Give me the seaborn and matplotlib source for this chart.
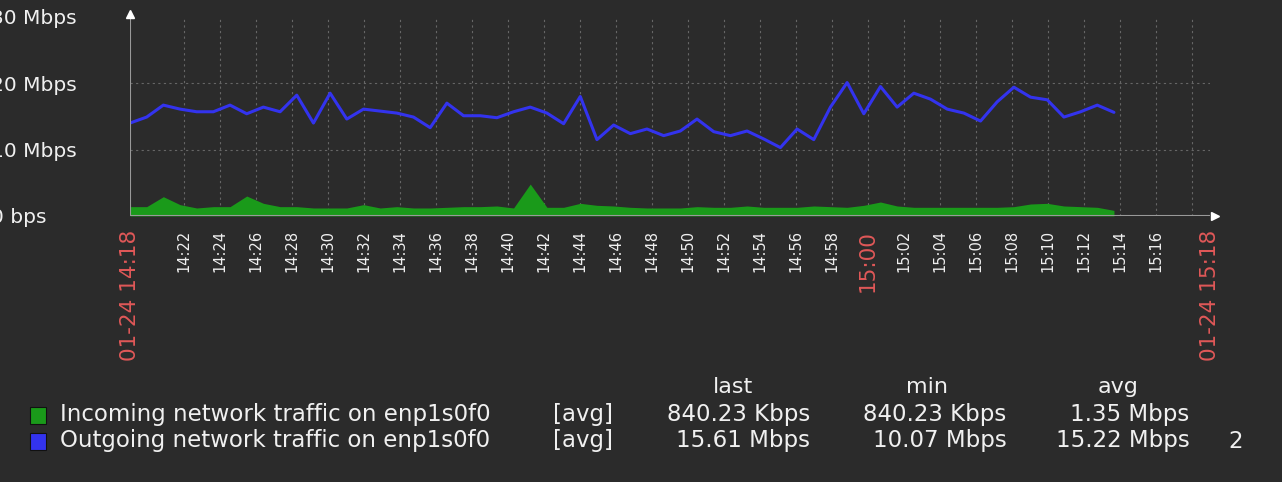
import numpy as np
import pandas as pd
import matplotlib
matplotlib.use('Agg')
import matplotlib.pyplot as plt
import seaborn as sns

# samples ~55s apart, 14:18:00 .. 15:12:40
times = pd.date_range("2024-01-24 14:18:00", "2024-01-24 15:12:40", periods=60)

outgoing = [14.0, 14.9, 16.7, 16.1, 15.7, 15.7, 16.7, 15.4, 16.4, 15.7,
            18.2, 14.0, 18.5, 14.6, 16.1, 15.8, 15.5, 14.9, 13.3, 17.0,
            15.1, 15.1, 14.8, 15.7, 16.4, 15.5, 13.9, 18.0, 11.5, 13.7,
            12.4, 13.1, 12.1, 12.8, 14.6, 12.7, 12.1, 12.8, 11.6, 10.3,
            13.1, 11.5, 16.4, 20.1, 15.4, 19.5, 16.4, 18.5, 17.6, 16.1,
            15.5, 14.3, 17.2, 19.4, 17.9, 17.5, 14.9, 15.7, 16.7, 15.61]

incoming = [1.4, 1.4, 2.9, 1.7, 1.2, 1.4, 1.4, 3.0, 1.9, 1.4,
            1.4, 1.2, 1.2, 1.2, 1.7, 1.2, 1.4, 1.2, 1.2, 1.3,
            1.4, 1.4, 1.5, 1.2, 4.8, 1.3, 1.3, 1.9, 1.6, 1.5,
            1.3, 1.2, 1.2, 1.2, 1.4, 1.3, 1.3, 1.5, 1.3, 1.3,
            1.3, 1.5, 1.4, 1.3, 1.6, 2.1, 1.5, 1.3, 1.3, 1.3,
            1.3, 1.3, 1.3, 1.4, 1.8, 1.9, 1.5, 1.4, 1.3, 0.84]

y_ticks = [0, 10, 20, 30]
y_labels = ["0 bps", "10 Mbps", "20 Mbps", "30 Mbps"]

legend_rows = [
    ("Incoming network traffic on enp1s0f0", "[avg]", "840.23 Kbps", "840.23 Kbps", "1.35 Mbps"),
    ("Outgoing network traffic on enp1s0f0", "[avg]", "15.61 Mbps", "10.07 Mbps", "15.22 Mbps"),
]

BG = "#2b2b2b"
GREEN = "#1a9a1a"
BLUE = "#3333ee"
RED = "#e05858"
TXT = "#f0f0f0"

start = pd.Timestamp("2024-01-24 14:18:00")
minutes = (times - start).total_seconds() / 60.0
df = pd.DataFrame({"t": minutes, "out": outgoing, "in": incoming})

sns.set_style("dark")
plt.rcParams['font.family'] = ['DejaVu Sans']
fig = plt.figure(figsize=(12.82, 4.82), dpi=100, facecolor=BG)
ax = fig.add_axes([0.1014, 0.552, 0.8424, 0.413])
ax.set_facecolor(BG)

ax.fill_between(df["t"], 0, df["in"], color=GREEN, lw=0)
sns.lineplot(data=df, x="t", y="out", color=BLUE, lw=2.2, ax=ax)

ax.set_xlim(0, 60)
ax.set_ylim(0, 30)
for s in ["top", "right", "left", "bottom"]:
    ax.spines[s].set_visible(False)
ax.axhline(0, color="#999999", lw=1.5)
ax.axvline(0, color="#999999", lw=1.5)
ax.plot([60.3], [0], marker=">", color="white", ms=6, clip_on=False)
ax.plot([0], [30.4], marker="^", color="white", ms=6, clip_on=False)

# zabbix draws the 2-minute labels about a minute left of the exact time
label_mins = list(range(4, 60, 2))
label_pos = [m - 1 for m in label_mins]
for p in label_pos + [59]:
    ax.axvline(p, color="#666666", ls=(0, (2, 3)), lw=0.8, zorder=0)
for v in [10, 20]:
    ax.axhline(v, color="#666666", ls=(0, (2, 3)), lw=0.8, zorder=0)

ax.set_yticks(y_ticks)
ax.set_yticklabels(y_labels, color=TXT, fontsize=14.5)
ax.tick_params(axis="y", length=0, pad=100)
for lab in ax.get_yticklabels():
    lab.set_horizontalalignment("left")

xt = [0] + label_pos + [60]
xl = []
for m in [0] + label_mins + [60]:
    ts = start + pd.Timedelta(minutes=m)
    xl.append(ts.strftime("%m-%d %H:%M") if m in (0, 60) else ts.strftime("%H:%M"))
ax.set_xticks(xt)
ax.set_xticklabels(xl, rotation=90, color=TXT, fontsize=10.5)
ax.tick_params(axis="x", length=3, color="#999999", pad=7)
for m, lab in zip([0] + label_mins + [60], ax.get_xticklabels()):
    if m in (0, 42, 60):
        lab.set_color(RED)
        lab.set_fontsize(15.5)
ax.set_xlabel("")
ax.set_ylabel("")

# legend block
for x, h in [(0.572, "last"), (0.723, "min"), (0.872, "avg")]:
    fig.text(x, 1 - 387 / 482, h, color=TXT, fontsize=16, ha="center", va="center")
for i, (row, col) in enumerate(zip(legend_rows, [GREEN, BLUE])):
    y = 1 - (415 + 26 * i) / 482
    fig.patches.append(plt.Rectangle((0.0234, y - 0.018), 0.0125, 0.034, transform=fig.transFigure,
                                     facecolor=col, edgecolor="#111111", lw=0.8))
    fig.text(0.047, y, row[0], color=TXT, fontsize=16.5, va="center")
    fig.text(0.431, y, row[1], color=TXT, fontsize=16.5, va="center")
    fig.text(0.632, y, row[2], color=TXT, fontsize=16.5, va="center", ha="right")
    fig.text(0.785, y, row[3], color=TXT, fontsize=16.5, va="center", ha="right")
    fig.text(0.928, y, row[4], color=TXT, fontsize=16.5, va="center", ha="right")
fig.text(0.958, 1 - 441 / 482, "2", color=TXT, fontsize=16.5, va="center")

fig.savefig("out.png", dpi=100, facecolor=BG)
